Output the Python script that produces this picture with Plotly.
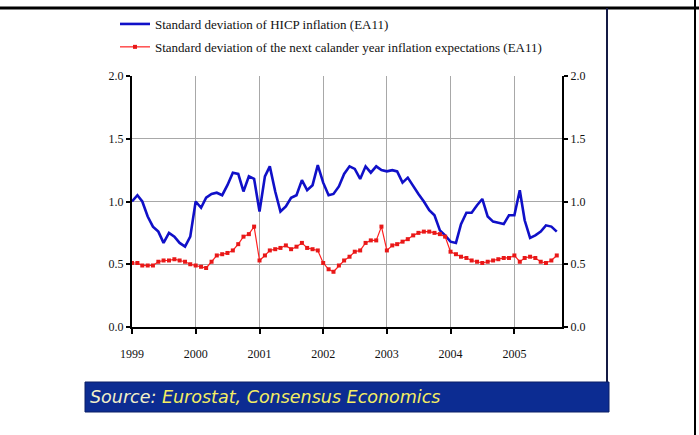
import pandas as pd
import plotly.graph_objects as go

W, H = 699, 435

# ---- data (monthly, Jan 1999 - Sep 2005) ----
start_month = "1999-01-01"
hicp_sd = [1.00, 1.05, 1.00, 0.88, 0.80, 0.76, 0.67, 0.75, 0.72, 0.67, 0.64, 0.72,
           1.00, 0.95, 1.03, 1.06, 1.07, 1.05, 1.13, 1.23, 1.22, 1.08, 1.20, 1.18,
           0.92, 1.20, 1.28, 1.08, 0.92, 0.96, 1.03, 1.05, 1.17, 1.09, 1.13, 1.29,
           1.15, 1.05, 1.06, 1.12, 1.22, 1.28, 1.26, 1.18, 1.28, 1.23, 1.28, 1.25,
           1.24, 1.25, 1.24, 1.15, 1.19, 1.12, 1.06, 1.00, 0.93, 0.89, 0.77, 0.73,
           0.68, 0.67, 0.82, 0.91, 0.91, 0.97, 1.02, 0.88, 0.84, 0.83, 0.82, 0.89,
           0.89, 1.09, 0.85, 0.71, 0.73, 0.76, 0.81, 0.80, 0.76]
expect_sd = [0.51, 0.51, 0.49, 0.49, 0.49, 0.52, 0.53, 0.53, 0.54, 0.53, 0.52, 0.50,
             0.49, 0.48, 0.47, 0.52, 0.57, 0.58, 0.59, 0.61, 0.66, 0.72, 0.74, 0.80,
             0.53, 0.57, 0.61, 0.62, 0.63, 0.65, 0.62, 0.64, 0.67, 0.63, 0.62, 0.61,
             0.51, 0.46, 0.44, 0.49, 0.53, 0.56, 0.60, 0.61, 0.67, 0.69, 0.69, 0.80,
             0.61, 0.65, 0.66, 0.68, 0.70, 0.73, 0.75, 0.76, 0.76, 0.75, 0.74, 0.72,
             0.60, 0.58, 0.56, 0.55, 0.53, 0.52, 0.51, 0.52, 0.53, 0.54, 0.55, 0.55,
             0.57, 0.52, 0.55, 0.56, 0.55, 0.52, 0.51, 0.53, 0.57]
year_ticks = ["1999", "2000", "2001", "2002", "2003", "2004", "2005"]
y_ticks = [0.0, 0.5, 1.0, 1.5, 2.0]
y_tick_labels = ["0.0", "0.5", "1.0", "1.5", "2.0"]
series_names = ["Standard deviation of HICP inflation (EA11)",
                "Standard deviation of the next calander year inflation expectations (EA11)"]
source_text = "Eurostat, Consensus Economics"

months = pd.date_range(start_month, periods=len(hicp_sd), freq="MS")
year_dates = [f"{y}-01-01" for y in year_ticks]

def px(x):
    return x / W

def py(y):
    return 1 - y / H

fig = go.Figure()
fig.add_trace(go.Scatter(x=months, y=hicp_sd, mode="lines", name=series_names[0],
                         line=dict(color="#1010c8", width=2.6), legendgroup="a"))
fig.add_trace(go.Scatter(x=months, y=expect_sd, mode="lines+markers", name=series_names[1],
                         line=dict(color="#ff2020", width=1.2),
                         marker=dict(color="#e81818", size=4, symbol="square"),
                         legendgroup="b"))
# invisible companion trace to carry the right-hand axis
fig.add_trace(go.Scatter(x=months, y=expect_sd, yaxis="y2", mode="lines",
                         line=dict(color="rgba(0,0,0,0)"), showlegend=False,
                         hoverinfo="skip"))

serif = "Liberation Serif"
tickfont = dict(family=serif, size=12, color="#111")

fig.update_layout(
    width=W, height=H,
    margin=dict(l=0, r=0, t=0, b=0, pad=0, autoexpand=False),
    paper_bgcolor="white", plot_bgcolor="white",
    showlegend=True,
    legend=dict(x=px(115), y=py(9), xanchor="left", yanchor="top",
                font=dict(family=serif, size=13, color="#111"),
                bgcolor="rgba(0,0,0,0)", tracegroupgap=3,
                itemwidth=30),
    xaxis=dict(type="date", domain=[px(132), px(562)],
               range=["1999-01-01", "2005-10-01"],
               tickvals=year_dates, ticktext=year_ticks,
               showgrid=True, gridcolor="#a8a8a8", gridwidth=1,
               showline=True, linecolor="black", linewidth=2,
               ticks="outside", ticklen=5, tickwidth=2, tickcolor="black",
               tickfont=tickfont, ticklabelstandoff=10, zeroline=False,
               automargin=False),
    yaxis=dict(domain=[py(327), py(76)], range=[0, 2],
               tickvals=y_ticks, ticktext=y_tick_labels,
               showgrid=True, gridcolor="#a8a8a8", gridwidth=1,
               showline=True, linecolor="black", linewidth=2,
               ticks="outside", ticklen=4, tickwidth=2, tickcolor="black",
               tickfont=tickfont, zeroline=False, automargin=False),
    yaxis2=dict(overlaying="y", side="right", anchor="x", range=[0, 2],
                tickvals=y_ticks, ticktext=y_tick_labels,
                showgrid=False, showline=True, linecolor="black", linewidth=2,
                ticks="outside", ticklen=4, tickwidth=2, tickcolor="black",
                tickfont=tickfont, zeroline=False, automargin=False),
)

shapes = [
    # page frame lines
    dict(type="line", xref="paper", yref="paper", x0=0, x1=1, y0=py(8), y1=py(8),
         line=dict(color="black", width=3)),
    dict(type="line", xref="paper", yref="paper", x0=px(607), x1=px(607), y0=py(8), y1=py(412),
         line=dict(color="#141a44", width=2)),
    dict(type="line", xref="paper", yref="paper", x0=px(695), x1=px(695), y0=0, y1=1,
         line=dict(color="black", width=2)),
    # source bar
    dict(type="rect", xref="paper", yref="paper", x0=px(85), x1=px(609), y0=py(412), y1=py(382),
         fillcolor="#0c2c92", line=dict(color="#0a1f66", width=1), layer="above"),
]
fig.update_layout(shapes=shapes)

fig.add_annotation(xref="paper", yref="paper", x=px(88), y=py(397),
                   xanchor="left", yanchor="middle", showarrow=False,
                   text=f"<i>Source: <span style='color:#f4ee62'>{source_text}</span></i>",
                   font=dict(family="DejaVu Sans", size=17.5, color="#f2f0c8"))

fig.write_html("out.html", config={"displayModeBar": False},
               post_script="document.body.style.margin='0';document.body.style.padding='0';")
